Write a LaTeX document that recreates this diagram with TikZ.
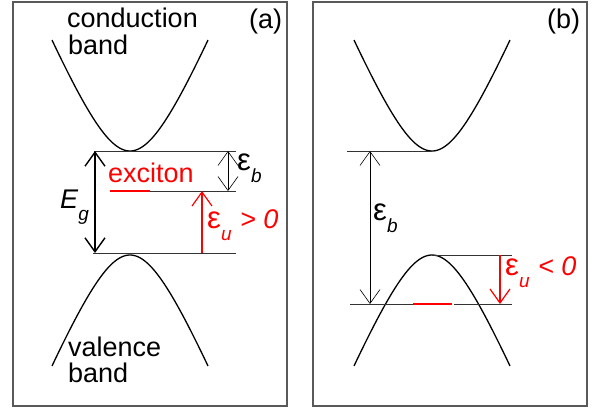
\documentclass[tikz,border=0pt]{standalone}
\usepackage{fontspec}
\setmainfont{Liberation Sans}
\usetikzlibrary{arrows.meta}
\newcommand\sbs[1]{\raisebox{-12pt}{\fontsize{19}{19}\selectfont\itshape #1}}
\newcommand\eps{{\fontsize{31}{31}\selectfont ε}}
\begin{document}
\begin{tikzpicture}[x=1pt,y=-1pt,
  declare function={hb(\t)=10*(sqrt(10.24^2+(0.24*\t)^2)-10.24);},
  band/.style={line width=1.3pt},
  level/.style={line width=0.8pt, black!80},
  frame/.style={line width=1.2pt, black!65},
  barbs/.style={{Straight Barb[length=14pt,width=20pt]}-{Straight Barb[length=14pt,width=20pt]}},
  barb/.style={-{Straight Barb[length=14pt,width=20pt]}},
  lab/.style={inner sep=0pt, anchor=base west, font=\fontsize{27}{28}\selectfont},
  exc/.style={red, line width=2.8pt},
]
\useasboundingbox (0,0) rectangle (595,408);
% frames
\draw[frame] (13,2) rectangle (287,406);
\draw[frame] (313,2) rectangle (587,406);

% ---------- panel (a)
\draw[band] plot[domain=-78:78, samples=100, smooth] ({130+\x},{151-hb(\x)});
\draw[band] plot[domain=-78:78, samples=100, smooth] ({130+\x},{255+hb(\x)});

\coordinate (aTopL) at (94,151);  \coordinate (aTopR) at (236,151);
\coordinate (aExL) at (150,191);  \coordinate (aExR) at (236,191);
\coordinate (aRedL) at (110,191);
\coordinate (aBotL) at (93,253);  \coordinate (aBotR) at (236,253);
\draw[level] (aTopL) -- (aTopR);
\draw[level] (aExL) -- (aExR);
\draw[level] (aBotL) -- (aBotR);
\draw[exc] (aRedL) -- (aExL);

\coordinate (egT) at (95,151); \coordinate (egB) at (95,253);
\draw[barbs, line width=1.4pt] (egT) -- (egB);
\coordinate (ebT) at (228,151); \coordinate (ebB) at (228,191);
\draw[barbs, line width=0.6pt] (ebT) -- (ebB);
\coordinate (euB) at (202,253); \coordinate (euT) at (202,191);
\draw[barb, red, line width=1.2pt] (euB) -- (euT);

\node[lab] (cond) at (67,27) {conduction};
\node[lab] (condb) at (68,54) {band};
\node[lab] (vale) at (68,356) {valence};
\node[lab] (valeb) at (68,382) {band};
\node[lab] (pa) at (249,28) {(a)};
\node[lab, red] (exciton) at (108,182) {exciton};
\node[lab] (eg) at (60,208) {\textit{E}\sbs{g}};
\node[lab] (eba) at (237,170) {\eps\sbs{b}};
\node[lab, red] (eua) at (207,228) {\eps\sbs{u}\kern1pt\ \textit{> 0}};

% ---------- panel (b)
\draw[band] plot[domain=-78:78, samples=100, smooth] ({432+\x},{151-hb(\x)});
\draw[band] plot[domain=-78:78, samples=100, smooth] ({432+\x},{255+hb(\x)});

\coordinate (bTopL) at (347,151); \coordinate (bTopR) at (432,151);
\coordinate (bVtL) at (432,255);  \coordinate (bVtR) at (512,255);
\coordinate (bBotL) at (350,304); \coordinate (bRedL) at (413,304);
\coordinate (bRedR) at (452,304); \coordinate (bGapR) at (454,304);
\coordinate (bBotR) at (512,304);
\draw[level] (bTopL) -- (bTopR);
\draw[level] (bVtL) -- (bVtR);
\draw[level] (bBotL) -- (bRedL);
\draw[level] (bGapR) -- (bBotR);
\draw[exc] (bRedL) -- (bRedR);

\coordinate (ebbT) at (370,151); \coordinate (ebbB) at (370,304);
\draw[barbs, line width=0.6pt] (ebbT) -- (ebbB);
\coordinate (eubT) at (500,255); \coordinate (eubB) at (500,304);
\draw[barb, red, line width=1.2pt] (eubT) -- (eubB);

\node[lab] (pb) at (547,28) {(b)};
\node[lab] (ebb) at (373,220) {\eps\sbs{b}};
\node[lab, red] (eub) at (505,275) {\eps\sbs{u}\kern1pt\ \textit{< 0}};
\end{tikzpicture}
\end{document}
